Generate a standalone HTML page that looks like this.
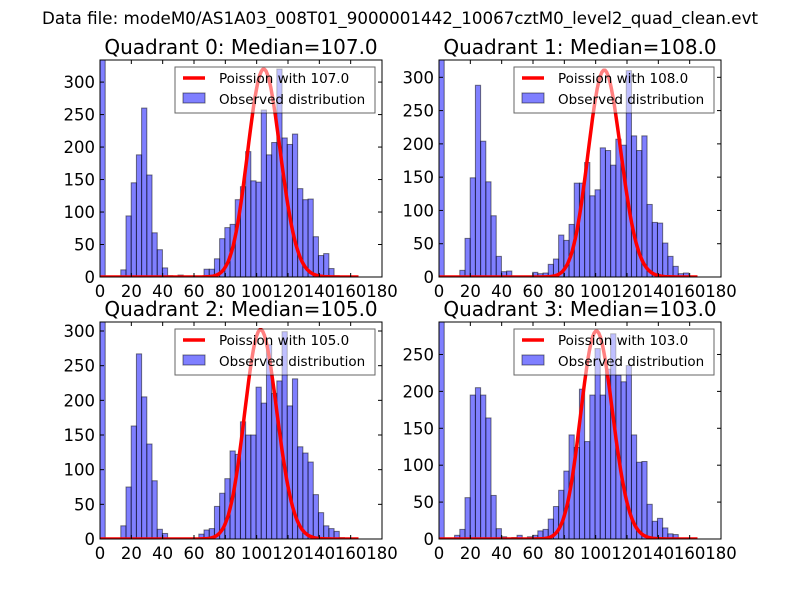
<!DOCTYPE html>
<html><head><meta charset="utf-8"><style>
body{margin:0;background:#fff;}
svg{display:block;font-family:"DejaVu Sans","Liberation Sans",sans-serif;}
</style></head><body>
<svg id="chart" width="800" height="600" viewBox="0 0 800 600">
<rect width="800" height="600" fill="#fff"/>
<text x="400" y="24" font-size="16.6" text-anchor="middle" textLength="716" lengthAdjust="spacingAndGlyphs">Data file: modeM0/AS1A03_008T01_9000001442_10067cztM0_level2_quad_clean.evt</text>
</svg>
<script>
const binWidth = 3.32;
const medians = [107.0, 108.0, 105.0, 103.0];
const poissonScale = [8300, 8100, 7760, 7170];
const yMaxes = [334, 326, 313, 294];
const counts0 = [400,0,0,0,11,94,145,188,260,157,68,42,14,2,0,3,0,0,0,0,12,12,28,59,76,81,119,139,193,148,146,257,188,207,320,214,204,220,136,119,120,62,33,36,13,2,0,0,0,0];
const counts1 = [400,0,0,0,10,58,149,288,204,143,92,31,8,9,1,1,1,1,7,5,6,19,27,63,55,79,141,141,172,122,131,194,190,168,207,198,310,212,190,212,109,82,81,51,31,16,5,6,1,0];
const counts2 = [400,0,0,0,19,75,163,267,205,137,84,14,8,0,0,0,1,1,0,7,13,15,47,66,87,127,122,169,150,150,219,196,280,210,228,299,192,231,133,124,111,64,38,19,15,11,2,1,0,0];
const counts3 = [400,0,0,5,13,56,195,205,195,164,59,14,3,1,2,5,1,3,5,11,13,27,44,66,92,141,124,203,132,195,258,195,230,278,222,213,235,141,104,105,47,24,28,15,7,6,1,1,0,0];
const allCounts = [counts0, counts1, counts2, counts3];
const xTicks = [0,20,40,60,80,100,120,140,160,180];
const yTicks = [0,50,100,150,200,250,300];
const boxes = [[100,60],[439,60],[100,322],[439,322]];
const W = 282, H = 217;
const NS = "http://www.w3.org/2000/svg";
const svg = document.getElementById('chart');
function mk(tag, attrs, parent){const e=document.createElementNS(NS,tag);for(const k in attrs)e.setAttribute(k,attrs[k]);(parent||svg).appendChild(e);return e;}
function logFact(k){let s=0;for(let i=2;i<=k;i++)s+=Math.log(i);return s;}
for(let q=0;q<4;q++){
  const [x0,y0]=boxes[q];
  const ymax=yMaxes[q];
  const xs=v=>x0+v/180*W;
  const ys=v=>y0+H-v/ymax*H;
  const g=mk('g',{});
  
  
  const cp=mk('clipPath',{id:'cp'+q},g);
  mk('rect',{x:x0,y:y0,width:W,height:H},cp);
  const bars=mk('g',{'clip-path':'url(#cp'+q+')'},g);
  allCounts[q].forEach((c,i)=>{
    if(c<=0)return;
    const r=mk('rect',{x:xs(i*binWidth),y:ys(c),width:xs(binWidth)-xs(0),height:ys(0)-ys(c),fill:'rgba(0,0,255,0.5)',stroke:'rgba(0,0,0,0.5)','stroke-width':1},bars);
    
    
  });
  let d='';
  for(let k=0;k<=167;k++){
    const p=poissonScale[q]*Math.exp(-medians[q]+k*Math.log(medians[q])-logFact(k));
    d+=(k?'L':'M')+xs(Math.max(0,k-2)).toFixed(1)+','+ys(p).toFixed(1);
  }
  const ln=mk('path',{d:d,fill:'none',stroke:'#ff0000','stroke-width':3.5,'stroke-linejoin':'round'},bars);
  
  
  mk('rect',{x:x0,y:y0,width:W,height:H,fill:'none',stroke:'#000','stroke-width':1},g);
  xTicks.forEach(t=>{
    const X=xs(t);
    mk('line',{x1:X,x2:X,y1:y0+H,y2:y0+H-4,stroke:'#000'},g);
    mk('line',{x1:X,x2:X,y1:y0,y2:y0+4,stroke:'#000'},g);
    const tx=mk('text',{x:X,y:y0+H+20,'font-size':16.5,'text-anchor':'middle'},g);
    tx.textContent=t;
    
    
  });
  yTicks.forEach(t=>{
    if(t>ymax)return;
    const Y=ys(t);
    mk('line',{x1:x0,x2:x0+4,y1:Y,y2:Y,stroke:'#000'},g);
    mk('line',{x1:x0+W,x2:x0+W-4,y1:Y,y2:Y,stroke:'#000'},g);
    const ty=mk('text',{x:x0-5,y:Y+6,'font-size':16.5,'text-anchor':'end'},g);
    ty.textContent=t;
    
    
  });
  const tt=mk('text',{x:x0+W/2,y:y0-6,'font-size':20,'text-anchor':'middle'},g);
  tt.textContent='Quadrant '+q+': Median='+medians[q].toFixed(1);
  
  
  const lg=mk('g',{},g);
  
  
  const lx=x0+75, ly=y0+7;
  mk('rect',{x:lx,y:ly,width:200,height:46,fill:'rgba(255,255,255,0.5)',stroke:'rgba(0,0,0,0.6)','stroke-width':1},lg);
  mk('line',{x1:lx+8,x2:lx+30,y1:ly+11,y2:ly+11,stroke:'#ff0000','stroke-width':3.5},lg);
  mk('rect',{x:lx+8,y:ly+26,width:22,height:10,fill:'rgba(0,0,255,0.5)',stroke:'rgba(0,0,0,0.5)'},lg);
  const t1=mk('text',{x:lx+44,y:ly+16,'font-size':13.5},lg);
  t1.textContent='Poission with '+medians[q].toFixed(1);
  const t2=mk('text',{x:lx+44,y:ly+37,'font-size':13.5},lg);
  t2.textContent='Observed distribution';
}
</script>
</body></html>
